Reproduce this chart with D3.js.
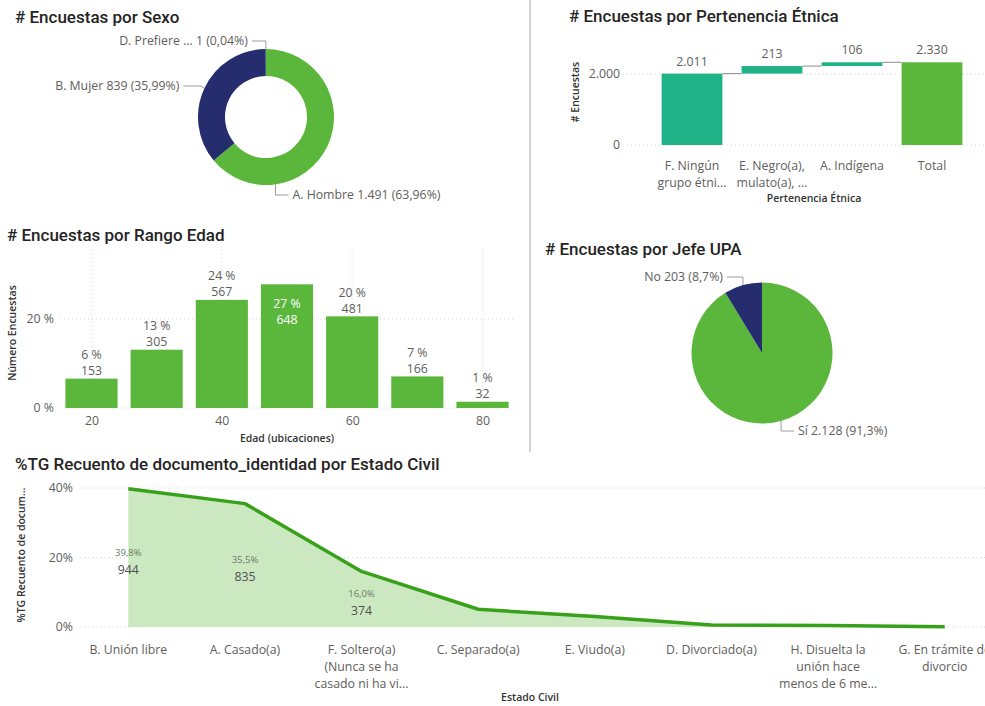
<!DOCTYPE html>
<meta charset="utf-8">
<style>
    body { margin: 0; background: #fff; }
    svg { display: block; }
    .title { font: 500 17px Roboto, sans-serif; fill: #252423; }
    .lbl { font: 12.3px "Open Sans", sans-serif; fill: #605e5c; }
    .axt { font: 600 10.5px "Open Sans", sans-serif; fill: #333; }
    .tick text { font: 12.3px "Open Sans", sans-serif; fill: #605e5c; }
    .grid { stroke: #d6d6d6; stroke-dasharray: 1,3; }
    .leader { fill: none; stroke: #9a9a9a; stroke-width: 1; }
</style>
<svg width="985" height="706"></svg>
<script src="https://d3js.org/d3.v7.min.js"></script>
<script>

    // ---- data ----
    var sexoCats = ["A. Hombre", "B. Mujer", "D. Prefiere ..."];
    var sexoVals = [1491, 839, 1];

    var etniaCats = [["F. Ningún", "grupo étni..."], ["E. Negro(a),", "mulato(a), ..."], ["A. Indígena"]];
    var etniaVals = [2011, 213, 106];

    var edadBins = [20, 30, 40, 50, 60, 70, 80];
    var edadCounts = [153, 305, 567, 648, 481, 166, 32];
    var edadPct = [6.6, 13.1, 24.3, 27.8, 20.6, 7.1, 1.4];

    var jefeCats = ["Sí", "No"];
    var jefeVals = [2128, 203];

    var civilCats = [["B. Unión libre"], ["A. Casado(a)"], ["F. Soltero(a)", "(Nunca se ha", "casado ni ha vi..."],
        ["C. Separado(a)"], ["E. Viudo(a)"], ["D. Divorciado(a)"], ["H. Disuelta la", "unión hace", "menos de 6 me..."],
        ["G. En trámite de", "divorcio"]];
    var civilPct = [39.8, 35.5, 16.0, 5.1, 3.0, 0.6, 0.4, 0.1];
    var civilCounts = [944, 835, 374];

    var green = "#5bb73b", navy = "#252d6e", teal = "#20b387";

    var loc = d3.formatLocale({decimal: ",", thousands: ".", grouping: [3], currency: ["", ""]});
    var fmtInt = loc.format(",d");

    var svg = d3.select("svg");

    // divider between top panels
    svg.append("line").attr("x1", 530).attr("x2", 530).attr("y1", 0).attr("y2", 452)
        .style("stroke", "#d3d3d3").style("stroke-width", 2);

    function title(x, y, t) {
        svg.append("text").attr("class", "title").attr("x", x).attr("y", y).text(t);
    }

    function pieLabels(g, arcs, r, layout, textFn) {
        arcs.forEach(function (d, i) {
            var L = layout[i];
            var a = L.a != null ? L.a * Math.PI / 180 : (d.startAngle + d.endAngle) / 2;
            var x0 = r * Math.sin(a), y0 = -r * Math.cos(a);
            var x1 = x0 + L.elbow, x2 = x1 + L.dx;
            g.append("polyline").attr("class", "leader")
                .attr("points", [[x0, y0], [x1, L.ly], [x2, L.ly]].join(" "));
            g.append("text").attr("class", "lbl")
                .attr("x", x2 + (L.dx < 0 ? -4 : 4)).attr("y", L.ly).attr("dy", "0.35em")
                .attr("text-anchor", L.dx < 0 ? "end" : "start")
                .text(textFn(d, i));
        });
    }

    // ---- # Encuestas por Sexo (donut) ----
    title(15, 23, "# Encuestas por Sexo");
    var sexoTotal = d3.sum(sexoVals);
    var pie = d3.pie().sort(null);
    var sexoArcs = pie(sexoVals);
    var gS = svg.append("g").attr("transform", "translate(266,117)");
    var arcS = d3.arc().innerRadius(41).outerRadius(68);
    gS.selectAll("path").data(sexoArcs).enter().append("path")
        .attr("d", arcS)
        .style("fill", function (d, i) { return [green, navy, "#8ad4eb"][i]; });
    pieLabels(gS, sexoArcs, 68, [
        {a: 172, ly: 78, dx: 13, elbow: 0},
        {a: null, ly: -31, dx: -17, elbow: -4},
        {a: null, ly: -76, dx: -14, elbow: 0}
    ], function (d, i) {
        return sexoCats[i] + " " + fmtInt(d.value) + " (" + loc.format(".2%")(d.value / sexoTotal) + ")";
    });

    // ---- # Encuestas por Pertenencia Étnica (waterfall) ----
    title(569, 22, "# Encuestas por Pertenencia Étnica");
    var ends = [], acc = 0;
    etniaVals.forEach(function (v) { ends.push([acc, acc + v]); acc += v; });
    var wfData = ends.map(function (e, i) { return {lines: etniaCats[i], s: e[0], e: e[1], v: etniaVals[i], total: false}; });
    wfData.push({lines: ["Total"], s: 0, e: acc, v: acc, total: true});

    var wx = d3.scaleBand().domain(d3.range(wfData.length)).range([652, 972]).paddingInner(0.24).paddingOuter(0.12);
    var wy = d3.scaleLinear().domain([0, 2000]).range([145, 74]);

    [0, 2000].forEach(function (t) {
        svg.append("line").attr("class", "grid").attr("x1", 627).attr("x2", 985).attr("y1", wy(t)).attr("y2", wy(t));
    });
    var wAxis = svg.append("g").attr("transform", "translate(623,0)")
        .call(d3.axisLeft(wy).tickValues([0, 2000]).tickFormat(fmtInt).tickSize(0).tickPadding(3));
    wAxis.select(".domain").remove();

    svg.selectAll(".wbar").data(wfData).enter().append("rect")
        .attr("class", "wbar")
        .attr("x", function (d, i) { return wx(i); })
        .attr("width", wx.bandwidth())
        .attr("y", function (d) { return wy(d.e); })
        .attr("height", function (d) { return wy(d.s) - wy(d.e); })
        .style("fill", function (d) { return d.total ? green : teal; });

    // connectors
    wfData.slice(0, -1).forEach(function (d, i) {
        svg.append("line")
            .attr("x1", wx(i) + wx.bandwidth()).attr("x2", wx(i + 1))
            .attr("y1", wy(d.e)).attr("y2", wy(d.e))
            .style("stroke", "#8c8c8c").style("stroke-width", 1);
    });

    svg.selectAll(".wval").data(wfData).enter().append("text")
        .attr("class", "lbl").attr("text-anchor", "middle")
        .attr("x", function (d, i) { return wx(i) + wx.bandwidth() / 2; })
        .attr("y", function (d) { return wy(d.e) - 8; })
        .text(function (d) { return fmtInt(d.v); });

    wfData.forEach(function (d, i) {
        var t = svg.append("text").attr("class", "lbl").attr("text-anchor", "middle")
            .attr("x", wx(i) + wx.bandwidth() / 2).attr("y", 170);
        d.lines.forEach(function (l, j) {
            t.append("tspan").attr("x", wx(i) + wx.bandwidth() / 2).attr("dy", j ? 17 : 0).text(l);
        });
    });
    svg.append("text").attr("class", "axt").attr("text-anchor", "middle")
        .attr("x", 814).attr("y", 202).text("Pertenencia Étnica");
    svg.append("text").attr("class", "axt").attr("text-anchor", "middle")
        .attr("transform", "translate(579,92) rotate(-90)").text("# Encuestas");

    // ---- # Encuestas por Rango Edad (bars) ----
    title(7, 241, "# Encuestas por Rango Edad");
    var ex = d3.scaleLinear().domain([20, 80]).range([91.5, 482.5]);
    var ey = d3.scaleLinear().domain([0, 20]).range([408, 319]);
    var barW = ex(28) - ex(20);

    [20, 40, 60, 80].forEach(function (t) {
        svg.append("line").attr("class", "grid").attr("x1", ex(t)).attr("x2", ex(t)).attr("y1", 250).attr("y2", 408);
    });
    [0, 20].forEach(function (t) {
        svg.append("line").attr("class", "grid").attr("x1", 60).attr("x2", 515).attr("y1", ey(t)).attr("y2", ey(t));
    });

    var eyAxis = svg.append("g").attr("transform", "translate(57,0)")
        .call(d3.axisLeft(ey).tickValues([0, 20]).tickFormat(function (d) { return d + " %"; }).tickSize(0).tickPadding(3));
    eyAxis.select(".domain").remove();
    var exAxis = svg.append("g").attr("transform", "translate(0,408)")
        .call(d3.axisBottom(ex).tickValues([20, 40, 60, 80]).tickSize(0).tickPadding(8));
    exAxis.select(".domain").remove();

    svg.selectAll(".ebar").data(edadBins).enter().append("rect")
        .attr("class", "ebar")
        .attr("x", function (d) { return ex(d) - barW / 2; })
        .attr("width", barW)
        .attr("y", function (d, i) { return ey(edadPct[i]); })
        .attr("height", function (d, i) { return ey(0) - ey(edadPct[i]); })
        .style("fill", green);

    edadBins.forEach(function (b, i) {
        var top = ey(edadPct[i]);
        var inside = top - 34 < 258;
        var y1 = inside ? top + 19 : top - 24;
        [Math.floor(edadPct[i]) + " %", edadCounts[i]].forEach(function (s, j) {
            svg.append("text").attr("class", "lbl").attr("text-anchor", "middle")
                .attr("x", ex(b)).attr("y", y1 + j * 16).attr("dy", "0.35em")
                .style("fill", inside ? "#fff" : "#605e5c")
                .text(s);
        });
    });
    svg.append("text").attr("class", "axt").attr("text-anchor", "middle")
        .attr("x", 287).attr("y", 442).text("Edad (ubicaciones)");
    svg.append("text").attr("class", "axt").attr("text-anchor", "middle")
        .attr("transform", "translate(16,333) rotate(-90)").text("Número Encuestas");

    // ---- # Encuestas por Jefe UPA (pie) ----
    title(545, 255, "# Encuestas por Jefe UPA");
    var jefeTotal = d3.sum(jefeVals);
    var jefeArcs = pie(jefeVals);
    var gJ = svg.append("g").attr("transform", "translate(762,353)");
    gJ.selectAll("path").data(jefeArcs).enter().append("path")
        .attr("d", d3.arc().innerRadius(0).outerRadius(70.5))
        .style("fill", function (d, i) { return [green, navy][i]; });
    pieLabels(gJ, jefeArcs, 70.5, [
        {a: null, ly: 78, dx: 13, elbow: 0},
        {a: null, ly: -76, dx: -16, elbow: 0}
    ], function (d, i) {
        return jefeCats[i] + " " + fmtInt(d.value) + " (" + loc.format(".1%")(d.value / jefeTotal) + ")";
    });

    // ---- %TG Recuento por Estado Civil (area) ----
    title(15, 470, "%TG Recuento de documento_identidad por Estado Civil");
    var cx = d3.scaleBand().domain(d3.range(civilPct.length)).range([70, 1003]);
    var cy = d3.scaleLinear().domain([0, 40]).range([627, 488]);
    var cmid = function (i) { return cx(i) + cx.bandwidth() / 2; };

    [0, 20, 40].forEach(function (t) {
        svg.append("line").attr("class", "grid").attr("x1", 80).attr("x2", 985).attr("y1", cy(t)).attr("y2", cy(t));
    });
    var cyAxis = svg.append("g").attr("transform", "translate(76,0)")
        .call(d3.axisLeft(cy).tickValues([0, 20, 40]).tickFormat(function (d) { return d + "%"; }).tickSize(0).tickPadding(3));
    cyAxis.select(".domain").remove();

    svg.append("path").datum(civilPct)
        .attr("d", d3.area().x(function (d, i) { return cmid(i); }).y0(cy(0)).y1(function (d) { return cy(d); }))
        .style("fill", "#cbe8c1");
    svg.append("path").datum(civilPct)
        .attr("d", d3.line().x(function (d, i) { return cmid(i); }).y(function (d) { return cy(d); }))
        .style("fill", "none").style("stroke", "#38a11a").style("stroke-width", 3.5)
        .style("stroke-linejoin", "round");

    civilCounts.forEach(function (c, i) {
        var mid = (cy(civilPct[i]) + cy(0)) / 2;
        svg.append("text").attr("text-anchor", "middle").attr("x", cmid(i)).attr("y", mid - 2)
            .style("font", "9.5px 'Open Sans', sans-serif").style("fill", "#6a7a6a")
            .text(loc.format(".1f")(civilPct[i]) + "%");
        svg.append("text").attr("class", "lbl").attr("text-anchor", "middle").attr("x", cmid(i)).attr("y", mid + 16)
            .style("fill", "#505050")
            .text(c);
    });

    civilCats.forEach(function (lines, i) {
        var t = svg.append("text").attr("class", "lbl").attr("text-anchor", "middle")
            .attr("x", cmid(i)).attr("y", 654);
        lines.forEach(function (l, j) {
            t.append("tspan").attr("x", cmid(i)).attr("dy", j ? 17 : 0).text(l);
        });
    });
    svg.append("text").attr("class", "axt").attr("text-anchor", "middle")
        .attr("x", 530).attr("y", 701).text("Estado Civil");
    svg.append("text").attr("class", "axt").attr("text-anchor", "middle")
        .attr("transform", "translate(25,555) rotate(-90)").text("%TG Recuento de docum...");
</script>
